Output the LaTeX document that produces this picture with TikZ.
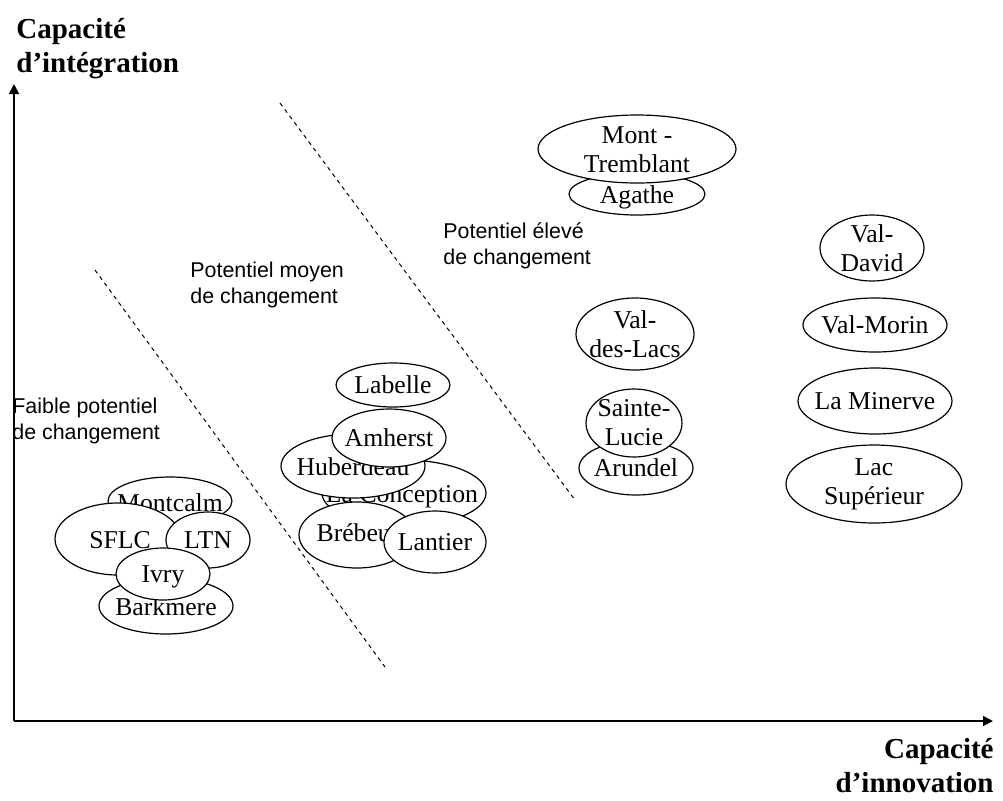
\documentclass[tikz,border=0pt]{standalone}
\usepackage{fontspec}
\setmainfont{Liberation Serif}
\newfontfamily\zonefont{Liberation Sans}
\usetikzlibrary{arrows.meta}

\begin{document}
\begin{tikzpicture}[x=0.5pt, y=-0.5pt,
    town/.style={draw, fill=white, line width=0.6pt},
    townname/.style={font=\fontsize{12.85}{14.5}\selectfont, align=center, inner sep=0pt},
    zone/.style={font=\zonefont\fontsize{10.7}{13}\selectfont, align=left, anchor=base west, inner sep=0pt},
    axistitle/.style={font=\bfseries\fontsize{14.5}{17}\selectfont, inner sep=0pt},
    border/.style={dash pattern=on 2pt off 2pt, line width=0.5pt},
    axis/.style={line width=0.9pt, -{Triangle[length=5pt, width=5pt]}}]

    \useasboundingbox (0,0) rectangle (1003,800);

    % axes
    \coordinate (origin) at (14,721);
    \coordinate (ytop) at (14,84);
    \coordinate (xend) at (993,721);
    \draw[axis] (origin) -- (ytop);
    \draw[axis] (origin) -- (xend);

    \node[axistitle, align=left, anchor=base west] (ytitle) at (16,72) {Capacit\'e\\d'int\'egration};
    \node[axistitle, align=right, anchor=base east] (xtitle) at (994,792) {Capacit\'e\\d'innovation};

    % limites entre les zones
    \coordinate (b1s) at (95,270);
    \coordinate (b1e) at (385,667);
    \coordinate (b2s) at (280,103);
    \coordinate (b2e) at (575,500);
    \draw[border] (b1s) -- (b1e);
    \draw[border] (b2s) -- (b2e);

    \node[zone] (faible) at (12,439) {Faible potentiel\\de changement};
    \node[zone] (moyen) at (190,303) {Potentiel moyen\\de changement};
    \node[zone] (eleve) at (443,264) {Potentiel \'elev\'e\\de changement};

    % faible potentiel
    \draw[town] (170,501) ellipse [x radius=62, y radius=24];
    \node[townname] (montcalm) at (170,503) {Montcalm};
    \draw[town] (118,539) ellipse [x radius=63, y radius=36];
    \node[townname] (sflc) at (120,540) {SFLC};
    \draw[town] (208,540) ellipse [x radius=42, y radius=28];
    \node[townname] (ltn) at (208,540) {LTN};
    \draw[town] (166,606) ellipse [x radius=67, y radius=28];
    \node[townname] (barkmere) at (166,607) {Barkmere};
    \draw[town] (163,574) ellipse [x radius=47, y radius=26];
    \node[townname] (ivry) at (163,577) {Ivry};

    % potentiel moyen
    \draw[town] (393,385) ellipse [x radius=57, y radius=22];
    \node[townname] (labelle) at (393,385) {Labelle};
    \draw[town] (404,493) ellipse [x radius=82, y radius=33];
    \node[townname] (laconception) at (402,497) {La Conception};
    \draw[town] (357,535) ellipse [x radius=58, y radius=33];
    \node[townname] (brebeuf) at (358,533) {Br\'ebeuf};
    \draw[town] (353,466) ellipse [x radius=72, y radius=32];
    \node[townname] (huberdeau) at (353,467) {Huberdeau};
    \draw[town] (389,438) ellipse [x radius=57, y radius=29];
    \node[townname] (amherst) at (389,438) {Amherst};
    \draw[town] (435,542) ellipse [x radius=51, y radius=31];
    \node[townname] (lantier) at (435,542) {Lantier};

    % potentiel eleve
    \draw[town] (637,194) ellipse [x radius=68, y radius=21];
    \node[townname] (agathe) at (637,197) {Agathe};
    \draw[town] (637,149) ellipse [x radius=99, y radius=34];
    \node[townname] (tremblant) at (637,150) {Mont -\\Tremblant};
    \draw[town] (635,334) ellipse [x radius=59, y radius=36];
    \node[townname] (valdeslacs) at (635,334) {Val-\\des-Lacs};
    \draw[town] (636,468) ellipse [x radius=57, y radius=27];
    \node[townname] (arundel) at (636,468) {Arundel};
    \draw[town] (634,423) ellipse [x radius=48, y radius=34];
    \node[townname] (saintelucie) at (634,423) {Sainte-\\Lucie};

    \draw[town] (872,248) ellipse [x radius=52, y radius=33];
    \node[townname] (valdavid) at (872,248) {Val-\\David};
    \draw[town] (875,325) ellipse [x radius=72, y radius=27];
    \node[townname] (valmorin) at (875,325) {Val-Morin};
    \draw[town] (875,401) ellipse [x radius=77, y radius=33];
    \node[townname] (laminerve) at (875,401) {La Minerve};
    \draw[town] (874,484) ellipse [x radius=88, y radius=39];
    \node[townname] (lacsuperieur) at (874,484) {Lac\\Sup\'erieur};

\end{tikzpicture}
\end{document}
